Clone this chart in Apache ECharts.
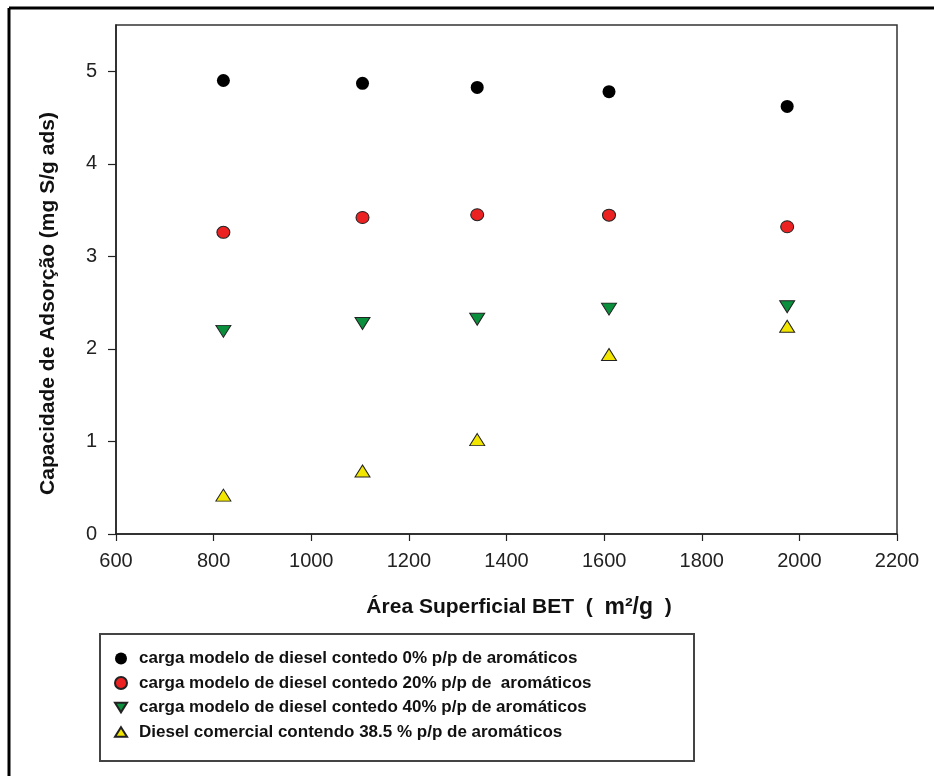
<!DOCTYPE html>
<html>
<head>
<meta charset="utf-8">
<script src="https://cdn.jsdelivr.net/npm/echarts@6/dist/echarts.min.js"></script>
<style>
  html, body { margin: 0; padding: 0; background: #fff; }
  #chart { width: 934px; height: 776px; }
</style>
</head>
<body>
<div id="chart"></div>
<script>
// BET surface area of each adsorbent (m²/g)
const betArea = [820, 1105, 1340, 1610, 1975];

// Sulfur adsorption capacity (mg S/g ads) for each feed
const aromatics0 = [4.90, 4.87, 4.825, 4.78, 4.62];
const aromatics20 = [3.26, 3.42, 3.45, 3.445, 3.32];
const aromatics40 = [2.19, 2.275, 2.32, 2.43, 2.455];
const commercialDiesel = [0.42, 0.68, 1.02, 1.94, 2.245];

const seriesNames = [
  'carga modelo de diesel contedo 0% p/p de aromáticos',
  'carga modelo de diesel contedo 20% p/p de  aromáticos',
  'carga modelo de diesel contedo 40% p/p de aromáticos',
  'Diesel comercial contendo 38.5 % p/p de aromáticos'
];

const xTicks = [600, 800, 1000, 1200, 1400, 1600, 1800, 2000, 2200];
const yTicks = [0, 1, 2, 3, 4, 5];

const pairs = ys => betArea.map((x, i) => [x, ys[i]]);

const TRI_DOWN = 'path://M0,0 L10,0 L5,8 Z';
const TRI_UP = 'path://M5,0 L10,8 L0,8 Z';
const FONT = 'Liberation Sans';

const chart = echarts.init(document.getElementById('chart'), null, { renderer: 'canvas' });

chart.setOption({
  backgroundColor: '#ffffff',
  animation: false,
  grid: {
    left: 116, top: 25, right: 37, bottom: 242,
    show: true, borderColor: '#333', borderWidth: 1.5, backgroundColor: 'transparent'
  },
  xAxis: {
    type: 'value',
    min: 600, max: 2200, interval: 200,
    name: '{a|Área Superficial BET  (  }{b|m²/g}{a|  )}',
    nameLocation: 'middle',
    nameGap: 62,
    nameTextStyle: {
      padding: [0, 0, 0, 25],
      rich: {
        a: { fontFamily: FONT, fontWeight: 'bold', fontSize: 21, color: '#111' },
        b: { fontFamily: FONT, fontWeight: 'bold', fontSize: 23, color: '#111' }
      }
    },
    axisLine: { show: true, onZero: false, lineStyle: { color: '#222', width: 1.5 } },
    axisTick: { show: true, inside: false, length: 7, customValues: xTicks, lineStyle: { color: '#222', width: 1.2 } },
    axisLabel: {
      customValues: xTicks, margin: 17, fontFamily: FONT, fontSize: 20, color: '#222',
      formatter: v => String(v)
    },
    splitLine: { show: false }
  },
  yAxis: {
    type: 'value',
    min: 0, max: 5.5, interval: 1,
    name: 'Capacidade de Adsorção (mg S/g ads)',
    nameLocation: 'middle',
    nameRotate: 90,
    nameGap: 57,
    nameTextStyle: {
      fontFamily: FONT, fontWeight: 'bold', fontSize: 21, color: '#111',
      padding: [0, 48, 0, 0]
    },
    axisLine: { show: true, onZero: false, lineStyle: { color: '#222', width: 1.5 } },
    axisTick: { show: true, inside: false, length: 8, customValues: yTicks, lineStyle: { color: '#222', width: 1.2 } },
    axisLabel: {
      customValues: yTicks, margin: 19, fontFamily: FONT, fontSize: 20, color: '#222',
      formatter: v => String(v)
    },
    splitLine: { show: false }
  },
  legend: {
    orient: 'vertical',
    left: 114, top: 650,
    itemWidth: 12, itemHeight: 12, itemGap: 7.5,
    padding: 0,
    selectedMode: false,
    textStyle: { fontFamily: FONT, fontWeight: 'bold', fontSize: 17, color: '#111', padding: [0, 0, 0, 7] },
    data: seriesNames
  },
  graphic: [
    // outer page frame (top and left edges)
    { type: 'line', shape: { x1: 9, y1: 8, x2: 934, y2: 8 }, style: { stroke: '#000', lineWidth: 3 } },
    { type: 'line', shape: { x1: 9, y1: 8, x2: 9, y2: 776 }, style: { stroke: '#000', lineWidth: 3 } },
    // legend box
    { type: 'rect', shape: { x: 100, y: 634, width: 594, height: 127 }, style: { fill: 'none', stroke: '#444', lineWidth: 2 } }
  ],
  series: [
    {
      name: seriesNames[0], type: 'scatter', data: pairs(aromatics0),
      symbol: 'circle', symbolSize: 13,
      itemStyle: { color: '#000', borderColor: '#000', borderWidth: 0, opacity: 1 }
    },
    {
      name: seriesNames[1], type: 'scatter', data: pairs(aromatics20),
      symbol: 'circle', symbolSize: [13, 12],
      itemStyle: { color: '#ec2222', borderColor: '#222', borderWidth: 1, opacity: 1 }
    },
    {
      name: seriesNames[2], type: 'scatter', data: pairs(aromatics40),
      symbol: TRI_DOWN, symbolSize: [15, 12], symbolKeepAspect: false,
      itemStyle: { color: '#0a8f3c', borderColor: '#222', borderWidth: 1, opacity: 1 }
    },
    {
      name: seriesNames[3], type: 'scatter', data: pairs(commercialDiesel),
      symbol: TRI_UP, symbolSize: [15, 12], symbolKeepAspect: false,
      itemStyle: { color: '#f2e600', borderColor: '#222', borderWidth: 1, opacity: 1 }
    }
  ]
});
</script>
</body>
</html>
